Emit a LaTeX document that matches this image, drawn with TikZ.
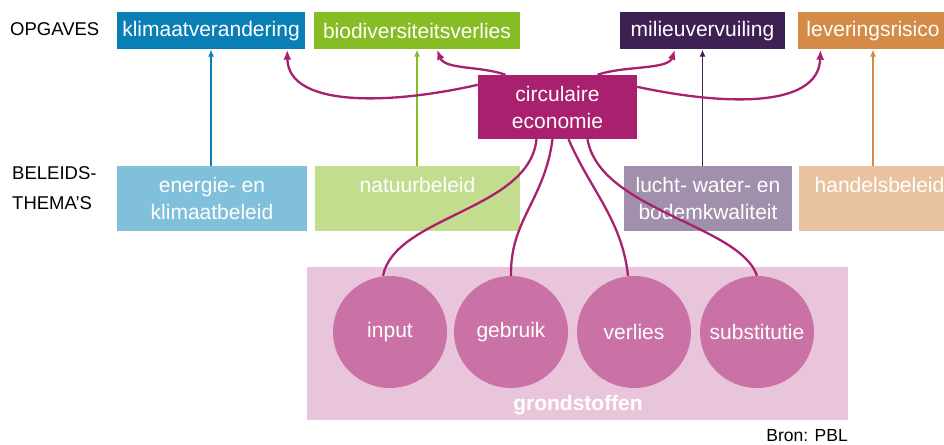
\documentclass[tikz,border=0pt]{standalone}
\usepackage{fontspec}
\setmainfont{Liberation Sans}
\usepackage{tikz}
\usetikzlibrary{arrows.meta,shapes.geometric}
\definecolor{klimblue}{HTML}{0A7FB5}
\definecolor{biogreen}{HTML}{86BC24}
\definecolor{milpurple}{HTML}{3E2152}
\definecolor{levorange}{HTML}{D38B47}
\definecolor{cemagenta}{HTML}{A8206E}
\definecolor{energieblue}{HTML}{80C0DA}
\definecolor{natuurgreen}{HTML}{C3DD8E}
\definecolor{luchtgrey}{HTML}{A090AB}
\definecolor{handelpeach}{HTML}{E9C3A0}
\definecolor{grondpink}{HTML}{E8C5DB}
\definecolor{stofpink}{HTML}{CA72A5}

\begin{document}
\begin{tikzpicture}[x=1pt,y=-1pt,
  lbl/.style={anchor=west, align=left, font=\fontsize{18.5}{30}\selectfont, inner sep=0pt},
  opgave/.style={text=white, minimum height=37pt, inner sep=0pt, font=\fontsize{21}{27}\selectfont},
  thema/.style={text=white, minimum height=65pt, inner sep=0pt, align=center, font=\fontsize{21}{27}\selectfont},
  stof/.style={ellipse, fill=stofpink, text=white, minimum width=114pt, minimum height=112pt, inner sep=0pt, font=\fontsize{21}{27}\selectfont},
  thin arrow/.style={line width=1.2pt, -{Latex[length=7pt,width=6pt]}},
  ce arrow/.style={cemagenta, line width=2.3pt, -{Latex[length=10pt,width=8pt]}},
  ce line/.style={cemagenta, line width=2.3pt}]
\useasboundingbox (0,0) rectangle (944,444);
\clip (0,0) rectangle (944,444);
%TOP
\node[lbl] (opgaven) at (10,29) {OPGAVES};
\node[opgave, fill=klimblue, minimum width=188pt] (klim) at (211,31) {klimaatverandering};
\node[opgave, fill=biogreen, minimum width=206pt] (bio) at (417,31) {biodiversiteitsverlies};
\node[opgave, fill=milpurple, minimum width=165pt] (milieu) at (702.5,31) {milieuvervuiling};
\node[opgave, fill=levorange, minimum width=150pt] (lev) at (873,31) {leveringsrisico};
\node[opgave, fill=cemagenta, minimum width=159pt, minimum height=64pt, align=center] (ce) at (557.5,107) {circulaire\\economie};
%THEMA
\node[lbl] (themas) at (12,188) {BELEIDS-\\THEMA'S};
\node[thema, fill=energieblue, minimum width=190pt] (energie) at (212,198.5) {energie- en\\klimaatbeleid};
\node[thema, fill=natuurgreen, minimum width=205pt] (natuur) at (417.5,198.5) {natuurbeleid\\~};
\node[thema, fill=luchtgrey, minimum width=168pt] (lucht) at (708,198.5) {lucht- water- en\\bodemkwaliteit};
\node[thema, fill=handelpeach, minimum width=161pt] (handel) at (879.5,198.5) {handelsbeleid\\~};
%BOT
\node[fill=grondpink, minimum width=541pt, minimum height=153pt, inner sep=0pt] (grond) at (577.5,343.5) {};
\node[stof] (input) at (390,332) {\makebox[0pt]{input}};
\node[stof] (gebruik) at (511,332) {\makebox[0pt]{gebruik}};
\node[stof] (verlies) at (634,332) {\makebox[0pt]{verlies}};
\node[stof] (subst) at (757,332) {\makebox[0pt]{substitutie}};
\node[text=white, font=\bfseries\fontsize{21}{27}\selectfont] (grondlbl) at (578,405) {grondstoffen};
\node[anchor=east, font=\fontsize{17.5}{20}\selectfont, inner sep=0pt] (bron) at (848,436) {Bron: PBL};
% themes to opgaven
\draw[thin arrow, klimblue] (klim.south |- energie.north) -- (klim.south);
\draw[thin arrow, biogreen] (bio.south |- natuur.north) -- (bio.south);
\draw[thin arrow, milpurple] (milieu.south |- lucht.north) -- (milieu.south);
\draw[thin arrow, levorange] (lev.south |- handel.north) -- (lev.south);
% circulaire economie to opgaven
\draw[ce arrow] ([yshift=-10pt]ce.north west) .. controls +(-88,20) and +(1,58) .. ([xshift=-18pt]klim.south east);
\draw[ce arrow] ([xshift=-52pt]ce.north) .. controls +(-25,-9) and +(8,20) .. ([xshift=20pt]bio.south);
\draw[ce arrow] ([xshift=40pt]ce.north) .. controls +(25,-9) and +(-7,20) .. ([xshift=-27.5pt]milieu.south);
\draw[ce arrow] ([yshift=-12pt]ce.north east) .. controls +(83,18) and +(-2,60) .. ([xshift=-52.5pt]lev.south);
% circulaire economie to grondstoffen
\draw[ce line] ([xshift=-21pt]ce.south) .. controls +(-7,71) and +(12,-60) .. ([xshift=-7pt]input.north);
\draw[ce line] ([xshift=-5pt]ce.south) .. controls +(-8,61) and +(-1,-56) .. (gebruik.north);
\draw[ce line] ([xshift=11pt]ce.south) .. controls +(22,51) and +(-6,-56) .. ([xshift=-6pt]verlies.north);
\draw[ce line] ([xshift=30pt]ce.south) .. controls +(12,71) and +(-17,-51) .. (subst.north);
\end{tikzpicture}
\end{document}
